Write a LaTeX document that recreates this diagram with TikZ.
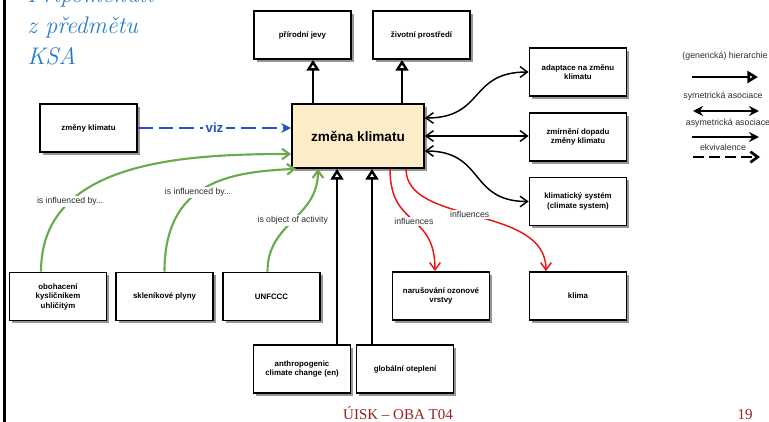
\documentclass[tikz,border=0pt]{standalone}
\usepackage{fontspec}
\newfontfamily\sansf{Liberation Sans}
\newfontfamily\seriff{Liberation Serif}
\usetikzlibrary{arrows.meta,shadows,calc}
\definecolor{titleblue}{RGB}{40,125,200}
\definecolor{footred}{RGB}{150,35,30}
\definecolor{mainfill}{RGB}{252,236,200}
\definecolor{vizblue}{RGB}{35,85,200}
\definecolor{infgreen}{RGB}{108,170,78}
\definecolor{infred}{RGB}{232,22,22}
\definecolor{shadowgrey}{RGB}{150,150,150}
\definecolor{labgrey}{RGB}{45,45,45}
\begin{document}
\begin{tikzpicture}[x=0.75pt,y=-0.75pt,
  box/.style={draw, line width=1.3pt, fill=white, minimum width=72.75pt, minimum height=36pt,
    align=center, inner sep=2pt, font={\sansf\bfseries\fontsize{5.9}{7.1}\selectfont},
    drop shadow={shadow xshift=2pt, shadow yshift=-2pt, fill=shadowgrey, opacity=1}},
  mainbox/.style={box, fill=mainfill, minimum width=99pt, minimum height=48pt,
    font={\sansf\bfseries\fontsize{10.2}{12}\selectfont}},
  hier/.style={line width=1.8pt, -{Triangle[open, length=8pt, width=9.5pt]}},
  assoc/.style={line width=1.1pt, {Straight Barb[length=5.5pt, width=8pt]}-{Straight Barb[length=5.5pt, width=8pt]}},
  greenarr/.style={line width=1.6pt, infgreen, -{Straight Barb[length=5.5pt, width=8pt]}},
  redarr/.style={line width=1.1pt, infred, -{Straight Barb[length=5.5pt, width=8pt]}},
  vizarr/.style={line width=1.8pt, vizblue, dash pattern=on 11pt off 4.5pt, -{Stealth[length=7.5pt, width=7.5pt]}},
  elabel/.style={fill=white, inner sep=1pt, text=labgrey, font={\sansf\fontsize{6.5}{7.5}\selectfont}},
  vizlabel/.style={fill=white, inner sep=2pt, text=vizblue, font={\sansf\bfseries\fontsize{10}{12}\selectfont}},
  legtext/.style={inner sep=0pt, text=labgrey, font={\sansf\fontsize{6.6}{8}\selectfont}},
  legline/.style={line width=2pt},
  titletext/.style={anchor=base west, inner sep=0pt, text=titleblue, font={\fontsize{18}{22}\selectfont\itshape}},
  foottext/.style={anchor=base, inner sep=0pt, text=footred, font={\seriff\fontsize{11.25}{13}\selectfont}}
]
\useasboundingbox (0,0) rectangle (769,422);

% left bar
\coordinate (bartop) at (4.7,0);
\coordinate (barbot) at (4.7,422);
\draw[line width=1.9pt] (bartop) -- (barbot);

% title
\node[titletext] (t1) at (27,2.3) {Připomenutí};
\node[titletext] (t2) at (27,33.3) {z předmětu};
\node[titletext] (t3) at (27,64.3) {KSA};

% boxes
\node[box] (prir) at (302.5,35) {přírodní jevy};
\node[box] (ziv) at (421.5,35) {životní prostředí};
\node[mainbox] (main) at (358,136) {změna klimatu};
\node[box] (zmeny) at (88.5,128) {změny klimatu};
\node[box] (adapt) at (578,72) {adaptace na změnu\\klimatu};
\node[box] (zmir) at (578,137) {zmírnění dopadu\\změny klimatu};
\node[box] (klsys) at (578,201.5) {klimatický systém\\(climate system)};
\node[box] (oboh) at (58,296.5) {obohacení\\kysličníkem\\uhličitým};
\node[box] (sklen) at (164.5,296.5) {skleníkové plyny};
\node[box] (unf) at (271.5,296.5) {UNFCCC};
\node[box] (narus) at (441,296) {narušování ozonové\\vrstvy};
\node[box] (klima) at (578,296) {klima};
\node[box] (anthro) at (302,369) {anthropogenic\\climate change (en)};
\node[box] (glob) at (405,369) {globální oteplení};

% hierarchy upward
\draw[hier] ($(main.north)+(-45,0)$) coordinate (h1) -- (h1 |- prir.south);
\draw[hier] ($(main.north)+(44,0)$) coordinate (h2) -- (h2 |- ziv.south);
\draw[hier] ($(anthro.north)+(35,0)$) coordinate (h3) -- (h3 |- main.south);
\draw[hier] ($(glob.north)+(-33,0)$) coordinate (h4) -- (h4 |- main.south);

% associations
\draw[assoc] ($(main.east)+(0,-18)$) .. controls +(60,0) and +(-60,0) .. (adapt.west);
\draw[assoc] (main.east) -- (main.east -| zmir.west);
\draw[assoc] ($(main.east)+(0,15)$) .. controls +(60,0) and +(-60,0) .. (klsys.west);

% equivalence
\draw[vizarr] (zmeny.east) -- (zmeny.east -| main.west) node[vizlabel, midway] {viz};

% green influences
\draw[greenarr] ($(oboh.north)+(-17,0)$) .. controls +(0,-110) and +(-110,0) .. ($(main.west)+(0,18)$)
  node[elabel, pos=0.28] {is influenced by...};
\draw[greenarr] (sklen.north) .. controls +(0,-90) and +(-67,3) .. ($(main.south west)+(5,0)$)
  node[elabel, pos=0.45] {is influenced by...};
\draw[greenarr] ($(unf.north)+(-4,0)$) .. controls +(0,-50) and +(0,50) .. ($(main.south)+(-40,0)$)
  node[elabel, pos=0.5] {is object of activity};

% red influences
\draw[redarr] ($(main.south)+(32,0)$) .. controls +(0,60) and +(0,-60) .. ($(narus.north)+(-6,0)$)
  node[elabel, pos=0.52] {influences};
\draw[redarr] ($(main.south)+(48,0)$) .. controls +(0,57) and +(0,-67) .. ($(klima.north)+(-32,0)$)
  node[elabel, pos=0.47] {influences};

% legend
\node[legtext] (lt1) at (725,56) {(generická) hierarchie};
\coordinate (l1a) at (692,77); \coordinate (l1b) at (758,77);
\draw[legline, -{Triangle[open, length=8pt, width=9pt]}] (l1a) -- (l1b);
\node[legtext] (lt2) at (723,96) {symetrická asociace};
\coordinate (l2a) at (693,111); \coordinate (l2b) at (759,111);
\draw[legline, {Stealth[length=7.5pt, width=7.5pt]}-{Stealth[length=7.5pt, width=7.5pt]}] (l2a) -- (l2b);
\node[legtext] (lt3) at (728,123) {asymetrická asociace};
\coordinate (l3a) at (692,137); \coordinate (l3b) at (759,137);
\draw[legline, -{Stealth[length=7.5pt, width=7.5pt]}] (l3a) -- (l3b);
\node[legtext] (lt4) at (723,147) {ekvivalence};
\coordinate (l4a) at (693,157); \coordinate (l4b) at (760,157);
\draw[legline, dash pattern=on 8pt off 4pt, -{Straight Barb[length=5.5pt, width=8pt]}] (l4a) -- (l4b);

% footer
\node[foottext] (foot) at (398,419.5) {ÚISK – OBA T04};
\node[foottext] (page) at (745,419.5) {19};
\end{tikzpicture}
\end{document}
